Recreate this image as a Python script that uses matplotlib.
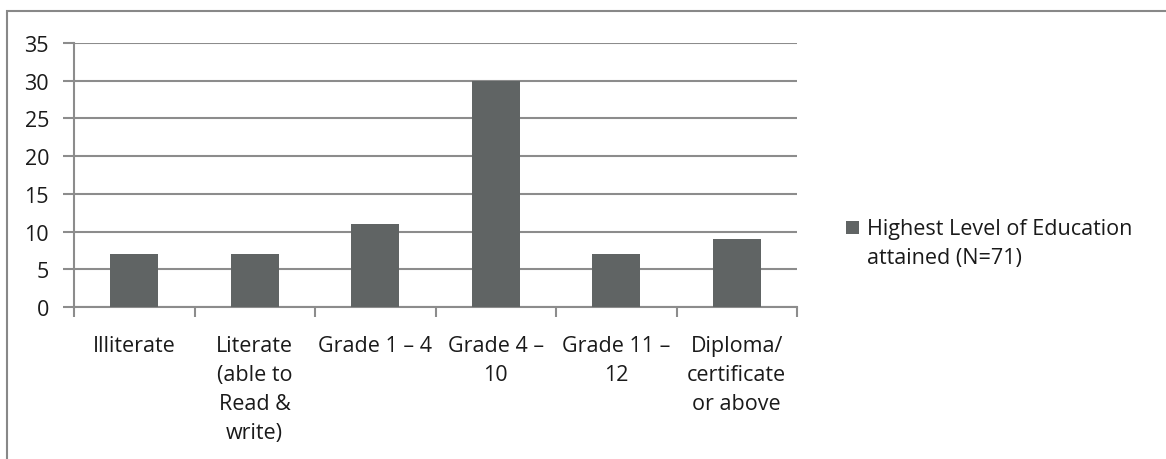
import numpy as np
import matplotlib.pyplot as plt
from matplotlib.patches import Rectangle
from matplotlib.legend_handler import HandlerPatch

# data
kategori = ['Illiterate', 'Literate\n(able to\nRead &\nwrite)', 'Grade 1 \u2013 4',
            'Grade 4 \u2013\n10', 'Grade 11 \u2013\n12', 'Diploma/\ncertificate\nor above']
jumlah = [7, 7, 11, 30, 7, 9]
label_seri = 'Highest Level of Education\nattained (N=71)'

plt.rcParams['font.family'] = ['Open Sans', 'DejaVu Sans']
warna_bar = '#606464'
warna_garis = '#8c8c8c'

fig = plt.figure(figsize=(11.66, 4.6), dpi=100)
ax = fig.add_axes([74 / 1166, 1 - 308 / 460, (797 - 74) / 1166, (308 - 44) / 460])

x = np.arange(len(kategori))
bars = ax.bar(x, jumlah, width=0.4, color=warna_bar, zorder=3, label=label_seri)

ax.set_xlim(-0.5, len(kategori) - 0.5)
ax.set_ylim(0, 35)
ax.set_yticks(range(0, 36, 5))
ax.yaxis.grid(True, color=warna_garis, linewidth=1.5, zorder=0)

# tick di batas kategori, label di tengah
ax.set_xticks(np.arange(-0.5, len(kategori), 1))
ax.set_xticklabels([])
ax.set_xticks(x, minor=True)
ax.set_xticklabels(kategori, minor=True, fontsize=15.5, linespacing=1.5, color='#1a1a1a')
ax.tick_params(axis='x', which='major', length=7, width=1.5, color=warna_garis, direction='out')
ax.tick_params(axis='x', which='minor', length=0, pad=20)
ax.tick_params(axis='y', length=8, width=1.5, color=warna_garis, labelsize=15.5,
               labelcolor='#1a1a1a', pad=10)

for s in ['top', 'right']:
    ax.spines[s].set_visible(False)
for s in ['left', 'bottom']:
    ax.spines[s].set_color(warna_garis)
    ax.spines[s].set_linewidth(1.5)


# kotak legenda sejajar baris pertama teks
def kotak_atas(legend, orig_handle, xdescent, ydescent, width, height, fontsize):
    return Rectangle((-xdescent, -ydescent + 11.5), width, height)


handler = HandlerPatch(patch_func=kotak_atas,
                       update_func=lambda lh, oh: lh.update_from(oh.patches[0]))
leg = fig.legend(loc='center left', bbox_to_anchor=(827 / 1166, 1 - 244 / 460),
                 frameon=False, fontsize=15.5, handlelength=0.6, handleheight=0.6,
                 handletextpad=0.35, labelspacing=0.3,
                 handler_map={type(bars): handler})
for t in leg.get_texts():
    t.set_color('#1a1a1a')
    t.set_linespacing(1.5)

# bingkai luar
fig.patches.append(Rectangle((7 / 1166, -0.1), 1.2, 1.1 - 12 / 460,
                             transform=fig.transFigure, fill=False,
                             edgecolor='#888888', linewidth=1.5))

fig.savefig('out.png', dpi=100)
